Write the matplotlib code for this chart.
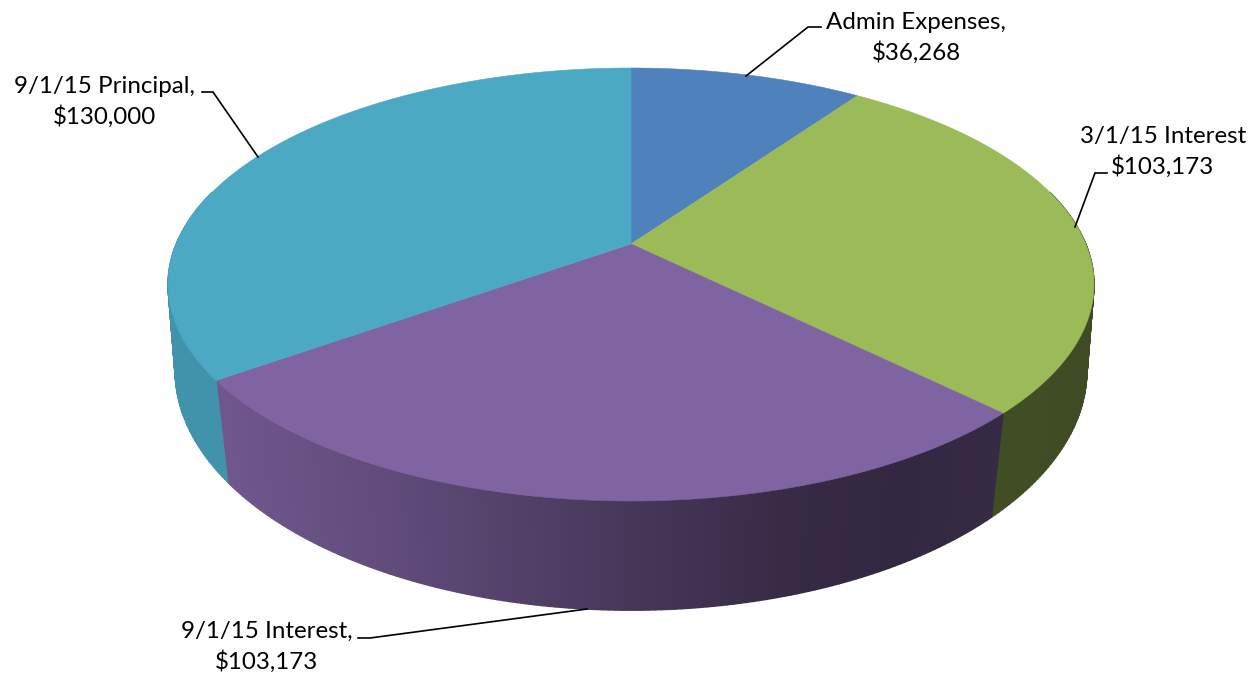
import numpy as np
import matplotlib
matplotlib.use("Agg")
import matplotlib.pyplot as plt
from matplotlib.collections import PolyCollection

# Fund disbursements, in dollars, clockwise from twelve o'clock
names = ["Admin Expenses", "3/1/15 Interest", "9/1/15 Interest", "9/1/15 Principal"]
amounts = [36268, 103173, 103173, 130000]
separators = [",", "", ",", ","]
face_colors = ["#4F81BD", "#9BBB59", "#8064A2", "#4BA9C4"]

# Wall shading across the width of the disc
shade_x = [170, 228, 400, 600, 800, 900, 1000, 1092]
shade_k = [0.87, 0.87, 0.75, 0.58, 0.42, 0.40, 0.42, 0.40]

# Label layout: text centre, then the leader line
label_pos = [(916, 38), (1163, 152), (267, 647), (104, 102)]
leaders = [
    [(746, 76), (808, 27), (821, 27)],
    [(1075, 227), (1095, 173), (1107, 173)],
    [(587, 609), (370, 638), (358, 638)],
    [(258, 157), (213, 92), (202, 92)],
]

CX = 631


def top_rim(theta):
    """Perspective projection of the upper disc; theta runs clockwise from the top."""
    X, Y = np.sin(theta), np.cos(theta)
    d = 1 + 0.187 * Y
    return CX + 454.8 * X / d, 244 - 208.9 * Y / d


def bottom_rim(theta):
    """Perspective projection of the lower disc."""
    X, Y = np.sin(theta), np.cos(theta)
    d = 1 + 0.16 * Y
    return CX + 450 * X / d, 332 - 233.7 * Y / d


fig = plt.figure(figsize=(12.51, 6.77), dpi=100, facecolor="white")
ax = fig.add_axes([0, 0, 1, 1])
ax.set_xlim(0, 1251)
ax.set_ylim(677, 0)
ax.axis("off")

edges = np.concatenate([[0], np.cumsum(amounts)]) / sum(amounts) * 2 * np.pi

# Side wall: thin vertical strips along the front of the disc
quads, strip_colors = [], []
for start, stop, color in zip(edges[:-1], edges[1:], face_colors):
    lo, hi = max(start, np.radians(75)), min(stop, np.radians(285))
    if hi <= lo:
        continue
    base = np.array(matplotlib.colors.to_rgb(color))
    ts = np.linspace(lo, hi, int((hi - lo) * 80) + 2)
    for a, b in zip(ts[:-1], ts[1:]):
        xa, ya = top_rim(a)
        xb, yb = top_rim(b)
        xc, yc = bottom_rim(b)
        xd, yd = bottom_rim(a)
        quads.append([(xa, ya), (xb, yb), (xc, yc), (xd, yd)])
        strip_colors.append(base * np.interp((xa + xd) / 2, shade_x, shade_k))
ax.add_collection(PolyCollection(quads, facecolors=strip_colors, edgecolors=strip_colors,
                                 linewidths=1.0, zorder=1))

# Top face wedges, meeting at the apex
for start, stop, color in zip(edges[:-1], edges[1:], face_colors):
    ts = np.linspace(start, stop, 300)
    xs, ys = top_rim(ts)
    ax.fill(np.r_[CX, xs], np.r_[244, ys], facecolor=color, edgecolor=color,
            linewidth=0.4, zorder=2)

# Data labels and their leader lines
for name, sep, amount, pos, path in zip(names, separators, amounts, label_pos, leaders):
    ax.text(pos[0], pos[1], f"{name}{sep}\n${amount:,}", ha="center", va="center",
            family="Lato", fontsize=17.4, color="black", linespacing=1.42, zorder=4)
    px, py = zip(*path)
    ax.plot(px, py, color="black", linewidth=1.2, solid_joinstyle="miter", zorder=3)

fig.savefig("out.png", dpi=100, facecolor="white")
